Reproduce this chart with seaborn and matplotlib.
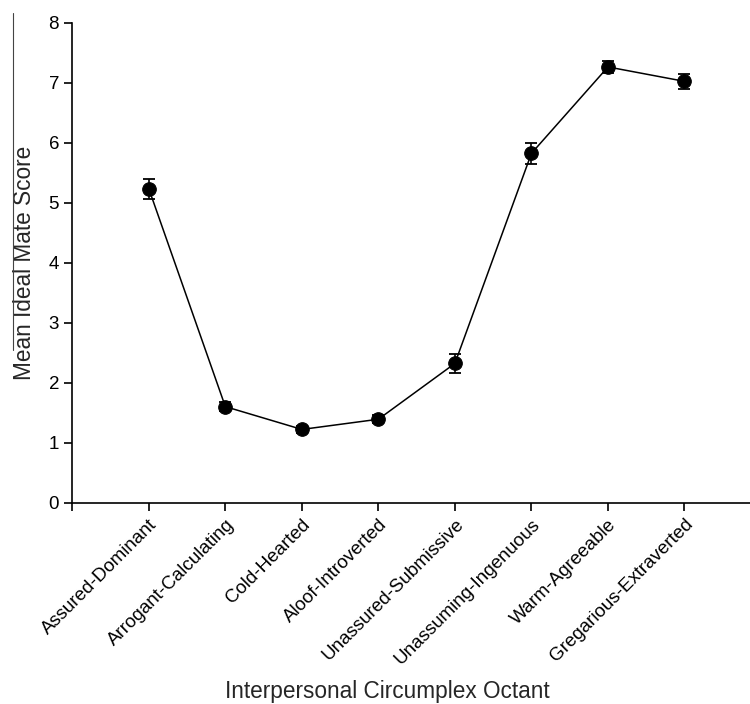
import matplotlib
matplotlib.use("Agg")
import matplotlib.pyplot as plt
from matplotlib.lines import Line2D
import seaborn as sns
import pandas as pd

# Ideal mate scores per interpersonal circumplex octant
octants = ["Assured-Dominant", "Arrogant-Calculating", "Cold-Hearted", "Aloof-Introverted",
           "Unassured-Submissive", "Unassuming-Ingenuous", "Warm-Agreeable", "Gregarious-Extraverted"]
mean_score = [5.23, 1.60, 1.22, 1.39, 2.32, 5.82, 7.26, 7.02]
se_score = [0.17, 0.08, 0.06, 0.07, 0.16, 0.17, 0.10, 0.12]

df = pd.DataFrame({"Octant": octants, "Score": mean_score, "SE": se_score})
df["pos"] = range(len(df))

sns.set_style("ticks")
plt.rcParams["font.family"] = ["Liberation Sans", "DejaVu Sans"]

fig = plt.figure(figsize=(7.5, 7.04), dpi=100)
ax = fig.add_axes([0.0964, 0.286, 0.904, 0.682])

ax.errorbar(df["pos"], df["Score"], yerr=df["SE"], fmt="none", ecolor="black",
            elinewidth=1.2, capsize=4.5, capthick=1.3, zorder=2)
sns.lineplot(data=df, x="pos", y="Score", ax=ax, color="black", linewidth=1.1,
             marker="o", markersize=9.8, markeredgecolor="black", zorder=3)

ax.set_xlim(-1, 7.86)
ax.set_ylim(0, 8)
ax.set_yticks(range(0, 9))
ax.set_xticks(range(-1, 8))
ax.set_xticklabels([""] + octants, rotation=45, ha="right", va="top", rotation_mode="anchor")
ax.tick_params(axis="both", labelsize=13.5, width=1.2, length=6, color="black", labelcolor="black")

for side in ["top", "right"]:
    ax.spines[side].set_visible(False)
for side in ["left", "bottom"]:
    ax.spines[side].set_linewidth(1.2)
    ax.spines[side].set_color("black")

ax.set_xlabel("Interpersonal Circumplex Octant", fontsize=16.3)
ax.set_ylabel("Mean Ideal Mate Score", fontsize=16.3)
ax.xaxis.set_label_coords(0.464, -0.394)
ax.xaxis.label.set_verticalalignment("center")
ax.yaxis.set_label_coords(-0.07, 0.5)
ax.yaxis.label.set_verticalalignment("center")

# thin scan edge line seen at the left of the original figure
fig.add_artist(Line2D([0.018, 0.018], [1 - 13 / 704, 1 - 350 / 704], color="#444444", linewidth=0.8))

fig.savefig("out.png", dpi=100)
